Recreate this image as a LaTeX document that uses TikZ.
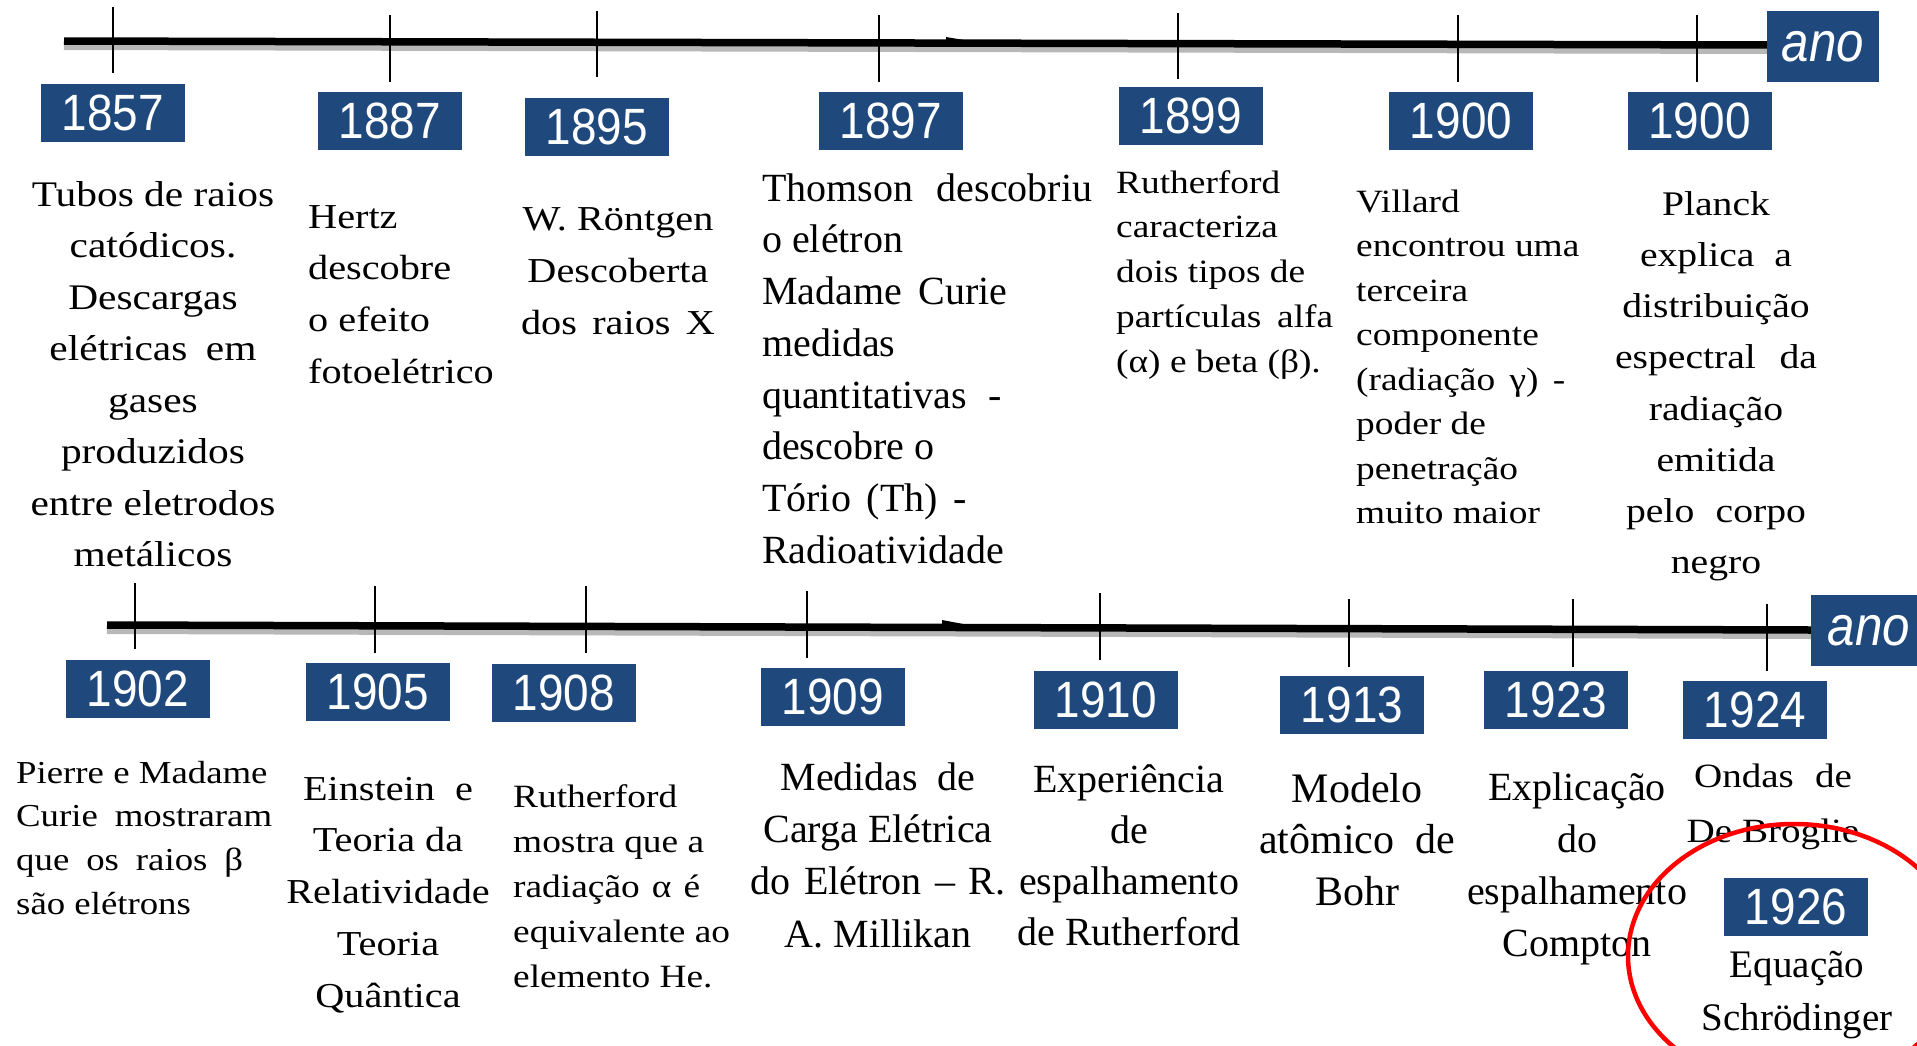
\documentclass[tikz,border=0pt]{standalone}
\usepackage{fontspec}
\setmainfont{Liberation Serif}
\newfontfamily\tn{Liberation Serif}
\newfontfamily\tnw{Liberation Serif}[FakeStretch=1.15]
\newfontfamily\yrfont{Liberation Sans}[FakeStretch=0.9]
\newfontfamily\anofont{Liberation Sans}[FakeStretch=0.88]
\definecolor{boxblue}{RGB}{31,73,125}
\newcommand\bsz[2]{\fontsize{#1pt}{#2pt}\selectfont}
\newcommand\fl{\rule{0pt}{1em}}
\newcommand\jl[2]{\makebox[#1pt][s]{#2}}
\begin{document}
\begin{tikzpicture}[x=1pt,y=-1pt,
  yearbox/.style={fill=boxblue,text=white,inner sep=0pt,minimum width=144pt,minimum height=58pt,font=\yrfont\bsz{51}{51}},
  anobox/.style={fill=boxblue,text=white,inner sep=0pt,font=\anofont\itshape\bsz{56}{56}},
  tick/.style={line width=2.2pt,black},
  mainline/.style={line width=7.5pt,black},
  shadowline/.style={line width=8pt,black!28},
  txt/.style={inner sep=0pt,text=black}]
\fill[white] (0,0) rectangle (1917,1045);
\useasboundingbox (0,0) rectangle (1917,1045);

% ---------- top timeline ----------
\coordinate (t0) at (64,41);
\coordinate (t1) at (1769,45);
\draw[shadowline] ([yshift=-5pt]t0) -- ([yshift=-5pt]t1);
\draw[mainline] (t0) -- (t1);
\fill[black] (946,37) -- (970,41) -- (946,41) -- cycle;
\node[anobox,minimum width=112pt,minimum height=71pt] (anotop) at (1823,46.5) {ano};

\draw[tick] (113,7) -- (113,73);
\draw[tick] (390,15) -- (390,82);
\draw[tick] (597,11) -- (597,77);
\draw[tick] (879,15) -- (879,82);
\draw[tick] (1178,13) -- (1178,79);
\draw[tick] (1458,15) -- (1458,82);
\draw[tick] (1697,15) -- (1697,82);

\node[yearbox] (y1857) at (113,113) {1857};
\node[yearbox] (y1887) at (390,121) {1887};
\node[yearbox] (y1895) at (597,127) {1895};
\node[yearbox] (y1897) at (891,121) {1897};
\node[yearbox] (y1899) at (1191,116) {1899};
\node[yearbox] (y1900a) at (1461,121) {1900};
\node[yearbox] (y1900b) at (1699.5,121) {1900};

% ---------- bottom timeline ----------
\coordinate (b0) at (107,625);
\coordinate (b1) at (1812,630);
\draw[shadowline] ([yshift=-5pt]b0) -- ([yshift=-5pt]b1);
\draw[mainline] (b0) -- (b1);
\fill[black] (942,620) -- (966,624.5) -- (942,624.5) -- cycle;
\node[anobox,minimum width=116pt,minimum height=71pt] (anobot) at (1869,630.5) {ano};

\draw[tick] (135,583) -- (135,649);
\draw[tick] (375,586) -- (375,653);
\draw[tick] (586,586) -- (586,653);
\draw[tick] (807,591) -- (807,658);
\draw[tick] (1100,593) -- (1100,660);
\draw[tick] (1349,599) -- (1349,667);
\draw[tick] (1573,599) -- (1573,667);
\draw[tick] (1767,604) -- (1767,671);

\node[yearbox] (y1902) at (138,689) {1902};
\node[yearbox] (y1905) at (378,692) {1905};
\node[yearbox] (y1908) at (564,693) {1908};
\node[yearbox] (y1909) at (833,697) {1909};
\node[yearbox] (y1910) at (1106,700) {1910};
\node[yearbox] (y1913) at (1352,705) {1913};
\node[yearbox] (y1923) at (1556,700) {1923};
\node[yearbox] (y1924) at (1755,710) {1924};
\node[yearbox] (y1926) at (1796,907) {1926};

% ---------- top texts ----------
\node[txt,anchor=north,align=center,font=\tnw\bsz{36}{51.5}] (tA) at (153,170)
 {\fl Tubos de raios\\catódicos.\\Descargas\\\jl{207}{elétricas em}\\gases\\produzidos\\entre eletrodos\\metálicos};
\node[txt,anchor=north west,align=left,font=\tnw\bsz{35}{51.7}] (tB) at (308,193)
 {\fl Hertz\\descobre\\o efeito\\fotoelétrico};
\node[txt,anchor=north,align=center,font=\tnw\bsz{35}{52}] (tC) at (618,195)
 {\fl W. Röntgen\\Descoberta\\\jl{194}{dos raios X}};
\node[txt,anchor=north west,align=left,font=\tn\bsz{40}{51.7}] (tD) at (762,161)
 {\fl\jl{330}{Thomson descobriu}\\o elétron\\\jl{245}{Madame Curie}\\medidas\\\jl{240}{quantitativas -}\\descobre o\\\jl{205}{Tório (Th) -}\\Radioatividade};
\node[txt,anchor=north west,align=left,font=\tnw\bsz{32.5}{44.7}] (tE) at (1116,160.5)
 {\fl Rutherford\\caracteriza\\dois tipos de\\\jl{217}{partículas alfa}\\(α) e beta (β).};
\node[txt,anchor=north west,align=left,font=\tnw\bsz{32.5}{44.5}] (tF) at (1356,179.5)
 {\fl Villard\\encontrou uma\\terceira\\componente\\\jl{209}{(radiação γ) -}\\poder de\\penetração\\muito maior};
\node[txt,anchor=north,align=center,font=\tnw\bsz{34.5}{51.2}] (tG) at (1716,180.5)
 {\fl Planck\\explica\ \ a\\distribuição\\\jl{202}{espectral da}\\radiação\\emitida\\\jl{180}{pelo corpo}\\negro};

% ---------- bottom texts ----------
\node[txt,anchor=north west,align=left,font=\tnw\bsz{32}{43.7}] (tH) at (16,751)
 {\fl Pierre e Madame\\\jl{256}{Curie mostraram}\\\jl{227}{que os raios β}\\são elétrons};
\node[txt,anchor=north,align=center,font=\tnw\bsz{35}{51.7}] (tI) at (388,765)
 {\fl\jl{170}{Einstein e}\\Teoria da\\Relatividade\\Teoria\\Quântica};
\node[txt,anchor=north west,align=left,font=\tnw\bsz{32.5}{45}] (tJ) at (513,774.5)
 {\fl Rutherford\\mostra que a\\\jl{187}{radiação α é}\\equivalente ao\\elemento He.};
\node[txt,anchor=north,align=center,font=\tn\bsz{40}{52.3}] (tK) at (878,750)
 {\fl\jl{195}{Medidas de}\\Carga Elétrica\\\jl{255}{do Elétron – R.}\\A. Millikan};
\node[txt,anchor=north,align=center,font=\tn\bsz{40}{51}] (tL) at (1129,752)
 {\fl Experiência\\de\\espalhamento\\de Rutherford};
\node[txt,anchor=north,align=center,font=\tn\bsz{42}{51.5}] (tM) at (1357,760)
 {\fl Modelo\\atômico\ \ de\\Bohr};
\node[txt,anchor=north,align=center,font=\tn\bsz{40}{52}] (tN) at (1577,760)
 {\fl Explicação\\do\\espalhamento\\Compton};
\node[txt,anchor=north,align=center,font=\tnw\bsz{34}{55}] (tO) at (1773,753)
 {\fl\jl{158}{Ondas de}\\De Broglie};
\node[txt,anchor=north,align=center,font=\tn\bsz{39}{53}] (tP) at (1797,938)
 {\fl Equação\\Schrödinger};

% ---------- highlight ----------
\draw[red,line width=4.5pt] (1794,956) ellipse [x radius=166pt, y radius=132pt];
\end{tikzpicture}
\end{document}
